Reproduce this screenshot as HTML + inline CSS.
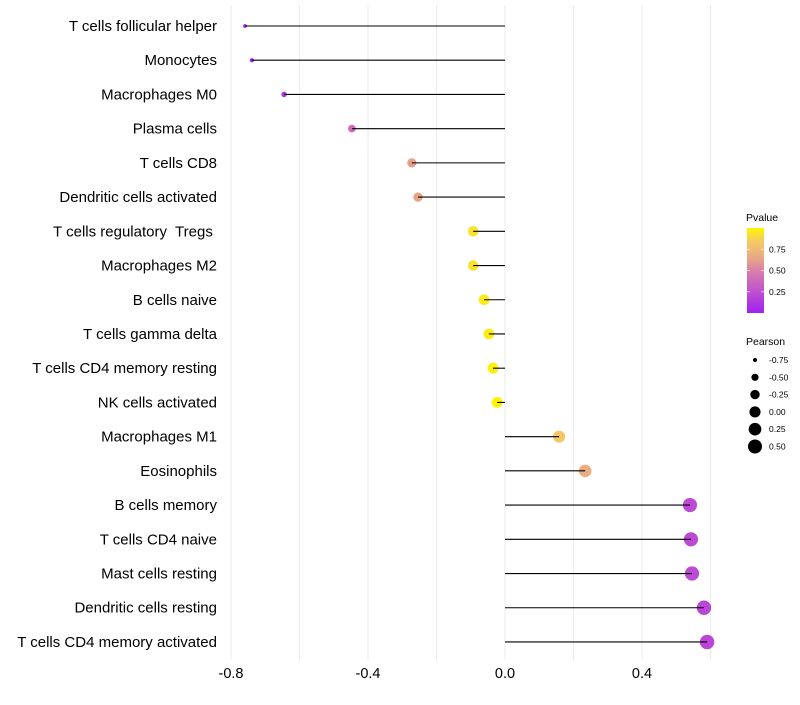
<!DOCTYPE html>
<html><head><meta charset="utf-8"><style>
body{margin:0;background:#fff;font-family:"Liberation Sans",sans-serif}
</style></head><body>
<svg id="c" width="800" height="700" xmlns="http://www.w3.org/2000/svg"></svg>
<script>
const categories=["T cells follicular helper","Monocytes","Macrophages M0","Plasma cells","T cells CD8","Dendritic cells activated","T cells regulatory  Tregs ","Macrophages M2","B cells naive","T cells gamma delta","T cells CD4 memory resting","NK cells activated","Macrophages M1","Eosinophils","B cells memory","T cells CD4 naive","Mast cells resting","Dendritic cells resting","T cells CD4 memory activated"];
const pearson=[-0.759,-0.739,-0.645,-0.447,-0.272,-0.254,-0.093,-0.093,-0.061,-0.047,-0.035,-0.023,0.158,0.234,0.540,0.543,0.546,0.581,0.590];
const pvalues=[0.02,0.04,0.12,0.4,0.62,0.64,0.93,0.93,0.96,0.97,0.98,0.99,0.82,0.68,0.22,0.22,0.22,0.2,0.2];
const xTicks=[-0.8,-0.4,0.0,0.4];
const xGrid=[-0.8,-0.6,-0.4,-0.2,0,0.2,0.4,0.6];
const pTicks=[0.25,0.5,0.75];
const sizeTicks=[-0.75,-0.5,-0.25,0,0.25,0.5];

const svg=document.getElementById('c');const NS='http://www.w3.org/2000/svg';
function mk(t,a,p){const e=document.createElementNS(NS,t);for(const k in a)e.setAttribute(k,a[k]);(p||svg).appendChild(e);return e;}
const xs=v=>505+v*342.5;
const ys=i=>26+i*34.22;
const rs=v=>Math.sqrt(Math.max(1,31+36*v));
const stops=[[0,[160,32,240]],[0.25,[192,80,208]],[0.5,[216,128,168]],[0.65,[232,168,134]],[0.85,[245,204,96]],[1,[255,245,0]]];
function col(p){for(let k=1;k<stops.length;k++){if(p<=stops[k][0]||k==stops.length-1){const s=stops[k-1],e=stops[k];const t=Math.min(1,Math.max(0,(p-s[0])/(e[0]-s[0])));
return 'rgb('+s[1].map((v,i)=>Math.round(v+(e[1][i]-v)*t)).join(',')+')';}}}
const py=p=>313-p*85;

xGrid.forEach(v=>{const g=mk('line',{x1:xs(v),x2:xs(v),y1:5,y2:660,stroke:'#ebebeb','stroke-width':1});
});
xTicks.forEach(v=>{const t=mk('text',{x:xs(v),y:678,'text-anchor':'middle','font-size':14.5,fill:'#000'});t.textContent=v.toFixed(1);
});
categories.forEach((c,i)=>{const y=ys(i);
const t=mk('text',{x:217,y:y+5,'text-anchor':'end','font-size':15,fill:'#000',style:'white-space:pre'});t.textContent=c;

const d=mk('circle',{cx:xs(pearson[i]),cy:y,r:rs(pearson[i]),fill:col(pvalues[i])});

const l=mk('line',{x1:xs(0),x2:xs(pearson[i]),y1:y,y2:y,stroke:'#000','stroke-width':1.1});
});

const lt=mk('text',{x:746,y:221,'font-size':10.5});lt.textContent='Pvalue';

const defs=mk('defs',{});const lg=mk('linearGradient',{id:'g',x1:0,y1:1,x2:0,y2:0},defs);
stops.forEach(s=>mk('stop',{offset:s[0],'stop-color':col(s[0])},lg));
const bar=mk('rect',{x:747,y:228,width:17,height:85,fill:'url(#g)'});

pTicks.forEach(p=>{mk('line',{x1:747,x2:750,y1:py(p),y2:py(p),stroke:'#fff','stroke-opacity':0.6});mk('line',{x1:761,x2:764,y1:py(p),y2:py(p),stroke:'#fff','stroke-opacity':0.6});
const t=mk('text',{x:769,y:py(p)+3,'font-size':8.5});t.textContent=p.toFixed(2);
});
const st=mk('text',{x:746,y:345,'font-size':10.5});st.textContent='Pearson';

sizeTicks.forEach((v,i)=>{const y=360+i*17.3;
const c=mk('circle',{cx:755,cy:y,r:rs(v),fill:'#000'});

const t=mk('text',{x:769,y:y+3,'font-size':8.5});t.textContent=v.toFixed(2);
});
</script></body></html>
